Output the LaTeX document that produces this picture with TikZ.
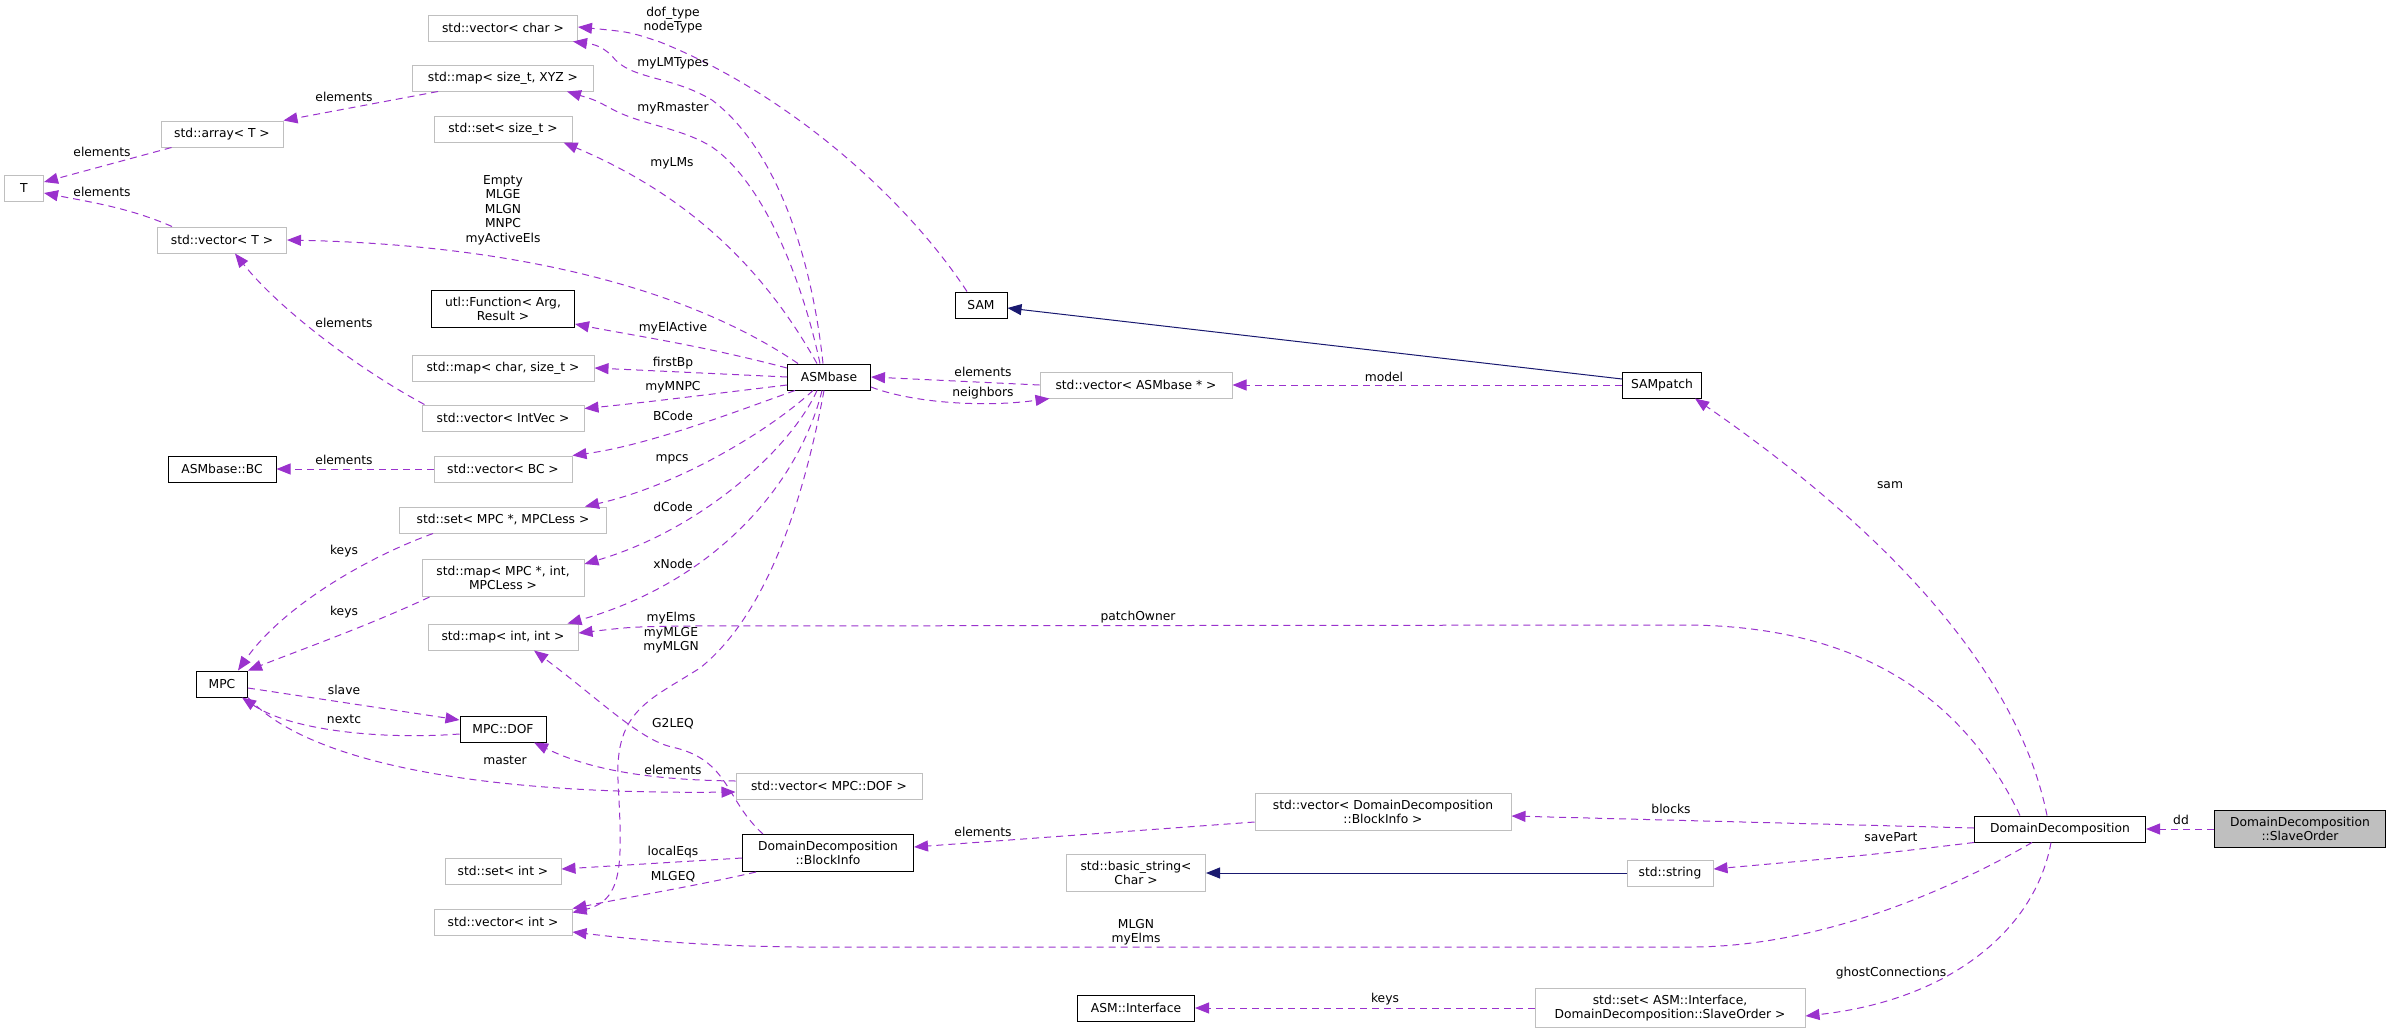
\documentclass[tikz,border=0pt]{standalone}
\usepackage{fontspec}
\setmainfont{DejaVu Sans}
\usetikzlibrary{arrows.meta}
\definecolor{depcol}{HTML}{9A32CD}
\definecolor{inhcol}{HTML}{191970}
\definecolor{extgray}{HTML}{BFBFBF}
\tikzset{
    classbox/.style={rectangle, draw=black, line width=1pt, fill=white, minimum height=26pt, inner xsep=4pt, inner ysep=6.5pt, align=center},
    extbox/.style={classbox, draw=extgray},
    dep/.style={draw=depcol, line width=1pt, dash pattern=on 7pt off 5pt, -{Triangle[length=14pt,width=11pt]}},
    inh/.style={draw=inhcol, line width=1pt, -{Triangle[length=14pt,width=11pt]}}
}
\begin{document}
\begin{tikzpicture}[x=1pt, y=-1pt, font=\fontsize{12.3}{14.5}\selectfont,
    lbl/.style={inner sep=0pt, align=center}]
    \useasboundingbox (0,0) rectangle (2391,1034);

    \node (vecchar) [extbox, minimum width=149pt] at (503,28) {std::vector< char >};
    \node (mapxyz) [extbox, minimum width=181pt] at (503,78) {std::map< size\_t, XYZ >};
    \node (arrT) [extbox, minimum width=122pt] at (222,134) {std::array< T >};
    \node (setsize) [extbox, minimum width=138pt] at (503,129) {std::set< size\_t >};
    \node (tT) [extbox, minimum width=39pt] at (24,188) {T};
    \node (vecT) [extbox, minimum width=129pt] at (222,240) {std::vector< T >};
    \node (utlfun) [classbox, minimum width=143pt] at (503,309) {utl::Function< Arg,\\ Result >};
    \node (mapchar) [extbox, minimum width=182pt] at (503,368) {std::map< char, size\_t >};
    \node (asmbase) [classbox, minimum width=83pt] at (829,377) {ASMbase};
    \node (vecintvec) [extbox, minimum width=162pt] at (503,418) {std::vector< IntVec >};
    \node (asmbc) [classbox, minimum width=108pt] at (222,469) {ASMbase::BC};
    \node (vecbc) [extbox, minimum width=138pt] at (503,469) {std::vector< BC >};
    \node (setmpc) [extbox, minimum width=207pt] at (503,520) {std::set< MPC *, MPCLess >};
    \node (mapmpc) [extbox, minimum width=162pt] at (503,578) {std::map< MPC *, int,\\ MPCLess >};
    \node (mapint) [extbox, minimum width=150pt] at (503,637) {std::map< int, int >};
    \node (mpc) [classbox, minimum width=51pt] at (222,684) {MPC};
    \node (mpcdof) [classbox, minimum width=86pt] at (503,729) {MPC::DOF};
    \node (vecdof) [extbox, minimum width=186pt] at (829,786) {std::vector< MPC::DOF >};
    \node (blockinfo) [classbox, minimum width=171pt] at (828,853) {DomainDecomposition\\ ::BlockInfo};
    \node (setint) [extbox, minimum width=116pt] at (503,871) {std::set< int >};
    \node (vecint) [extbox, minimum width=138pt] at (503,922) {std::vector< int >};
    \node (sam) [classbox, minimum width=52pt] at (981,305) {SAM};
    \node (vecasm) [extbox, minimum width=192pt] at (1136,385) {std::vector< ASMbase * >};
    \node (sampatch) [classbox, minimum width=79pt] at (1662,385) {SAMpatch};
    \node (vecblock) [extbox, minimum width=256pt] at (1383,812) {std::vector< DomainDecomposition\\ ::BlockInfo >};
    \node (basicstr) [extbox, minimum width=139pt] at (1136,873) {std::basic\_string<\\ Char >};
    \node (stdstring) [extbox, minimum width=86pt] at (1670,873) {std::string};
    \node (setasm) [extbox, minimum width=270pt] at (1670,1008) {std::set< ASM::Interface,\\ DomainDecomposition::SlaveOrder >};
    \node (asmif) [classbox, minimum width=117pt] at (1136,1008) {ASM::Interface};
    \node (domdec) [classbox, minimum width=171pt] at (2060,829) {DomainDecomposition};
    \node (slave) [classbox, fill=extgray, minimum width=171pt] at (2300,829) {DomainDecomposition\\ ::SlaveOrder};

    \draw [dep] ([xshift=-6pt]asmbase.north) .. controls (812,260) and (778,150) .. (712,100) .. controls (670,75) and (630,80) .. (612,56) .. controls (600,44) and (590,44) .. ([xshift=-5pt]vecchar.south east);
    \draw [dep] ([xshift=-9pt]asmbase.north) .. controls (800,270) and (760,180) .. (712,147) .. controls (680,127) and (640,125) .. (610,108) .. controls (595,100) .. ([xshift=-27pt]mapxyz.south east);
    \draw [dep] ([xshift=-12pt]asmbase.north) .. controls (770,280) and (700,200) .. ([xshift=-9pt]setsize.south east);
    \draw [dep] ([xshift=-31pt]asmbase.north) .. controls (690,290) and (520,245) .. (vecT.east);
    \draw [dep] ([yshift=9pt]asmbase.west) .. controls (700,345) and (630,335) .. ([yshift=4pt]utlfun.south east);
    \draw [dep] (asmbase.west) -- (mapchar.east);
    \draw [dep] ([yshift=-8pt]asmbase.west) .. controls (720,393) and (650,402) .. ([yshift=-4pt]vecintvec.north east);
    \draw [dep] ([xshift=-34pt]asmbase.south) .. controls (740,410) and (650,445) .. (vecbc.north east);
    \draw [dep] ([xshift=-16pt]asmbase.south) .. controls (770,430) and (680,485) .. ([xshift=-22pt]setmpc.north east);
    \draw [dep] ([xshift=-12pt]asmbase.south) .. controls (790,450) and (700,530) .. ([yshift=-5pt]mapmpc.north east);
    \draw [dep] ([xshift=-7pt]asmbase.south) .. controls (800,480) and (720,580) .. ([xshift=-11pt]mapint.north east);
    \draw [dep] ([xshift=-5pt]asmbase.south) .. controls (800,520) and (760,620) .. (700,668) .. controls (650,700) and (615,710) .. (618,780) .. controls (622,860) and (625,900) .. ([yshift=-4pt]vecint.north east);
    \draw [dep] ([yshift=-10pt]asmbase.east) .. controls (910,402) and (980,408) .. ([xshift=10pt]vecasm.south west);
    \draw [dep] (vecasm.west) -- (asmbase.east);
    \draw [dep] (sampatch.west) -- (vecasm.east);
    \draw [inh] ([yshift=6pt]sampatch.west) -- ([yshift=-3pt]sam.east);
    \draw [dep] ([xshift=-14pt]sam.north) .. controls (900,190) and (780,90) .. (660,42) .. controls (630,32) .. ([yshift=1pt]vecchar.east);
    \draw [dep] ([xshift=-13pt]domdec.north) .. controls (2020,680) and (1900,540) .. ([xshift=-7pt]sampatch.south east);
    \draw [dep] ([xshift=-40pt]domdec.north) .. controls (1960,690) and (1850,625) .. (1683,625) -- (680,626) .. controls (630,627) .. ([yshift=4pt]mapint.east);
    \draw [dep] ([yshift=1pt]domdec.west) -- ([yshift=-4pt]vecblock.east);
    \draw [dep] (domdec.south west) .. controls (1870,855) .. ([yshift=4pt]stdstring.east);
    \draw [dep] ([xshift=-28pt]domdec.south) .. controls (1950,890) and (1820,947) .. (1690,947) -- (800,947) .. controls (700,946) and (640,940) .. ([yshift=-10pt]vecint.east);
    \draw [dep] ([xshift=-9pt]domdec.south) .. controls (2035,930) and (1950,1000) .. ([yshift=-8pt]setasm.east);
    \draw [dep] (slave.west) -- (domdec.east);
    \draw [inh] (stdstring.west) -- (basicstr.east);
    \draw [dep] (setasm.west) -- (asmif.east);
    \draw [dep] ([yshift=-10pt]vecblock.west) -- ([yshift=6pt]blockinfo.east);
    \draw [dep] ([yshift=-5pt]blockinfo.west) -- ([yshift=2pt]setint.east);
    \draw [dep] ([xshift=14pt]blockinfo.south west) .. controls (700,885) and (640,895) .. (vecint.north east);
    \draw [dep] ([xshift=-65pt]blockinfo.north) .. controls (725,800) and (730,760) .. (672,747) .. controls (640,740) and (600,700) .. ([xshift=31pt]mapint.south);
    \draw [dep] ([yshift=5pt]vecdof.west) .. controls (650,780) and (590,770) .. ([xshift=31pt]mpcdof.south);
    \draw [dep] (mpc.south east) .. controls (300,755) and (450,795) .. ([yshift=-6pt]vecdof.west);
    \draw [dep] ([yshift=-4pt]mpc.east) -- ([yshift=9pt]mpcdof.west);
    \draw [dep] ([yshift=-5pt]mpcdof.west) .. controls (380,740) and (290,730) .. ([xshift=-6pt]mpc.south east);
    \draw [dep] ([xshift=34pt]setmpc.south west) .. controls (360,560) and (280,610) .. ([xshift=16pt]mpc.north);
    \draw [dep] ([xshift=8pt]mapmpc.south west) .. controls (370,625) and (300,650) .. (mpc.north east);
    \draw [dep] (vecbc.west) -- (asmbc.east);
    \draw [dep] ([xshift=3pt]vecintvec.north west) .. controls (360,370) and (280,310) .. ([xshift=13pt]vecT.south);
    \draw [dep] ([xshift=15pt]vecT.north west) .. controls (130,208) and (90,202) .. ([yshift=-5pt]tT.east);
    \draw [dep] ([xshift=11pt]arrT.south west) -- ([yshift=6pt]tT.east);
    \draw [dep] ([xshift=26pt]mapxyz.south west) -- (arrT.north east);

    \node (ldoftype) [lbl] at (673,20) {dof\_type\\nodeType};
    \node (llmtypes) [lbl] at (673,63) {myLMTypes};
    \node (lrmaster) [lbl] at (673,108) {myRmaster};
    \node (llms) [lbl] at (672,163) {myLMs};
    \node (lempty) [lbl] at (503,210) {Empty\\MLGE\\MLGN\\MNPC\\myActiveEls};
    \node (lelactive) [lbl] at (673,328) {myElActive};
    \node (lfirstbp) [lbl] at (673,363) {firstBp};
    \node (lmnpc) [lbl] at (673,387) {myMNPC};
    \node (lbcode) [lbl] at (673,416) {BCode};
    \node (lmpcs) [lbl] at (672,459) {mpcs};
    \node (ldcode) [lbl] at (673,507) {dCode};
    \node (lxnode) [lbl] at (673,564) {xNode};
    \node (lmyelms) [lbl] at (671,633) {myElms\\myMLGE\\myMLGN};
    \node (lg2leq) [lbl] at (673,724) {G2LEQ};
    \node (ldofel) [lbl] at (673,770) {elements};
    \node (llocaleqs) [lbl] at (673,852) {localEqs};
    \node (lmlgeq) [lbl] at (673,877) {MLGEQ};
    \node (lasmel) [lbl] at (983,372) {elements};
    \node (lneighbors) [lbl] at (983,393) {neighbors};
    \node (lmodel) [lbl] at (1384,377) {model};
    \node (lblockel) [lbl] at (983,832) {elements};
    \node (lmlgn) [lbl] at (1136,932) {MLGN\\myElms};
    \node (lifkeys) [lbl] at (1385,999) {keys};
    \node (lblocks) [lbl] at (1671,809) {blocks};
    \node (lsavepart) [lbl] at (1891,837) {savePart};
    \node (lghost) [lbl] at (1891,973) {ghostConnections};
    \node (ldd) [lbl] at (2181,820) {dd};
    \node (lpatchowner) [lbl] at (1138,617) {patchOwner};
    \node (lsam) [lbl] at (1890,485) {sam};
    \node (lxyzel) [lbl] at (344,97) {elements};
    \node (larrel) [lbl] at (102,152) {elements};
    \node (lvectel) [lbl] at (102,192) {elements};
    \node (lintvecel) [lbl] at (344,323) {elements};
    \node (lbcel) [lbl] at (344,460) {elements};
    \node (lsetkeys) [lbl] at (344,551) {keys};
    \node (lmapkeys) [lbl] at (344,612) {keys};
    \node (lslave) [lbl] at (344,690) {slave};
    \node (lnextc) [lbl] at (344,719) {nextc};
    \node (lmaster) [lbl] at (505,760) {master};
\end{tikzpicture}
\end{document}
